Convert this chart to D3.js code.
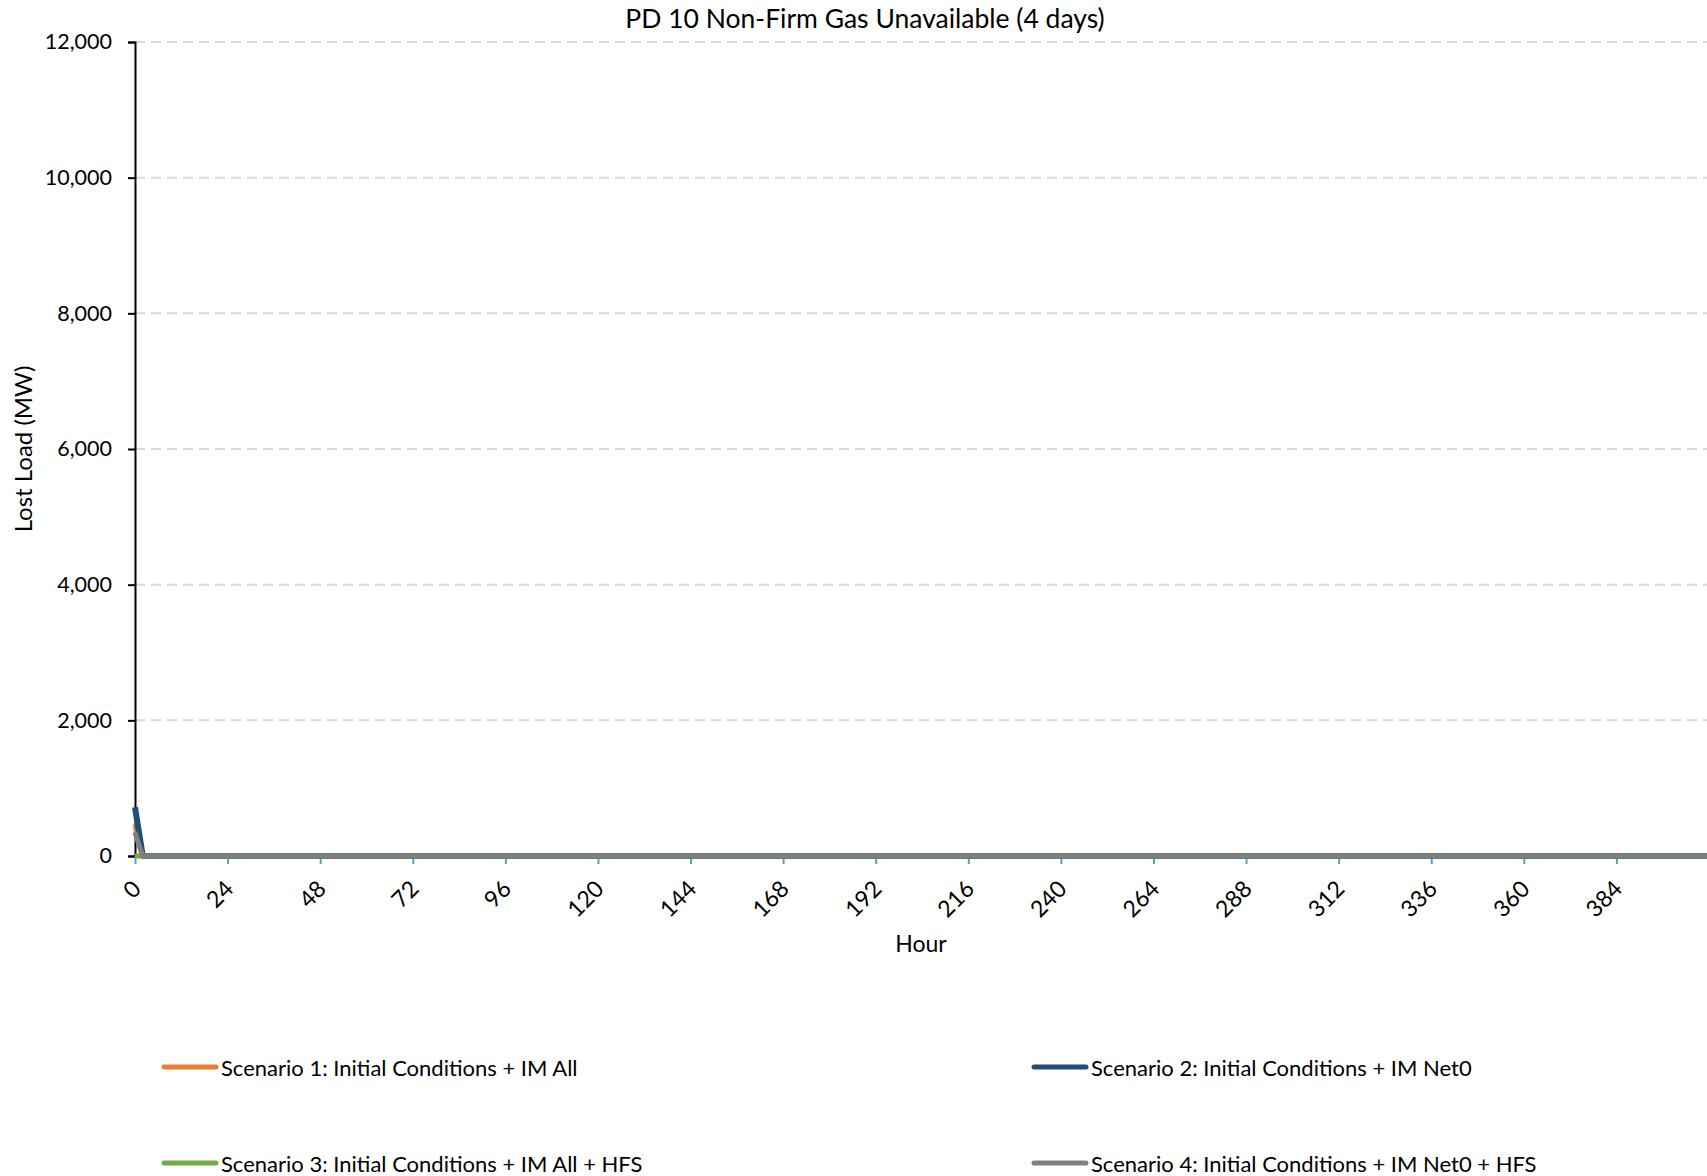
<!DOCTYPE html>
<html>
<head>
<meta charset="utf-8">
<script src="https://cdn.jsdelivr.net/npm/d3@7"></script>
<style>
  html, body { margin: 0; padding: 0; background: #fff; }
  svg { display: block; }
  text { font-family: Lato, "Open Sans", sans-serif; fill: #000; }
</style>
</head>
<body>
<script>
// ---- Data ----
const chartTitle = "PD 10 Non-Firm Gas Unavailable (4 days)";
const xTitle = "Hour";
const yTitle = "Lost Load (MW)";
const hours = [0, 1, 2, 3, 408];
const scenario1 = [470, 200, 0, 0, 0];
const scenario2 = [720, 360, 0, 0, 0];
const scenario3 = [0, 0, 0, 0, 0];
const scenario4 = [350, 170, 0, 0, 0];
const seriesNames = [
  "Scenario 1: Initial Conditions + IM All",
  "Scenario 2: Initial Conditions + IM Net0",
  "Scenario 3: Initial Conditions + IM All + HFS",
  "Scenario 4: Initial Conditions + IM Net0 + HFS"
];
const seriesColors = ["#ED7D31", "#1F4E79", "#70AD47", "#808080"];
const xTicks = [0, 24, 48, 72, 96, 120, 144, 168, 192, 216, 240, 264, 288, 312, 336, 360, 384];
const yTicks = [0, 2000, 4000, 6000, 8000, 10000, 12000];

const W = 1707, H = 1176;
const m = { left: 135, right: 1709, top: 42, bottom: 856 };

const svg = d3.select("body").append("svg").attr("width", W).attr("height", H);

const x = d3.scaleLinear().domain([0, 408]).range([m.left, m.right]);
const y = d3.scaleLinear().domain([0, 12000]).range([m.bottom, m.top]);

// gridlines
svg.append("g").selectAll("line").data(yTicks.filter(d => d > 0)).join("line")
  .attr("x1", m.left).attr("x2", W)
  .attr("y1", d => y(d)).attr("y2", d => y(d))
  .attr("stroke", "#d9d9d9").attr("stroke-width", 2)
  .attr("stroke-dasharray", "10,6");

// y axis
const yAxis = d3.axisLeft(y).tickValues(yTicks).tickSize(7).tickPadding(16)
  .tickFormat(d3.format(","));
const gy = svg.append("g").attr("transform", `translate(${m.left},0)`).call(yAxis);
gy.select(".domain").attr("stroke", "#000").attr("stroke-width", 2);
gy.selectAll(".tick line").attr("stroke", "#000").attr("stroke-width", 2);
gy.selectAll(".tick text").style("font-size", "21.5px").style("font-family", "Lato, sans-serif");

// x axis ticks (light blue)
const xAxis = d3.axisBottom(x).tickValues(xTicks).tickSize(8).tickFormat("");
const gx = svg.append("g").attr("transform", `translate(0,${m.bottom})`).call(xAxis);
gx.select(".domain").remove();
gx.selectAll(".tick line").attr("stroke", "#5B9BD5").attr("stroke-width", 2);

// x tick labels rotated
svg.append("g").selectAll("text").data(xTicks).join("text")
  .attr("transform", d => `translate(${x(d) + 1},${m.bottom + 28}) rotate(-45)`)
  .attr("text-anchor", "end")
  .attr("dominant-baseline", "central")
  .style("font-size", "23px")
  .text(d => d);

// lines
const allSeries = [scenario1, scenario2, scenario3, scenario4];
const line = d3.line().x((d, i) => x(hours[i])).y(d => y(d));
svg.append("g").selectAll("path").data(allSeries).join("path")
  .attr("d", d => line(d))
  .attr("fill", "none")
  .attr("stroke", (d, i) => seriesColors[i])
  .attr("stroke-width", (d, i) => i === 1 ? 6 : 5)
  .attr("stroke-linejoin", "round");

// titles
svg.append("text").attr("x", 865).attr("y", 28).attr("text-anchor", "middle")
  .style("font-size", "26.5px").text(chartTitle);
svg.append("text").attr("x", 921).attr("y", 952).attr("text-anchor", "middle")
  .style("font-size", "23px").text(xTitle);
svg.append("text").attr("transform", `translate(32,${(m.top + m.bottom) / 2}) rotate(-90)`)
  .attr("text-anchor", "middle").style("font-size", "24px").text(yTitle);

// legend
const legendPos = [
  { lx: 164, ly: 1067 }, { lx: 1034, ly: 1067 },
  { lx: 164, ly: 1163 }, { lx: 1034, ly: 1163 }
];
const lg = svg.append("g").selectAll("g").data(seriesNames).join("g")
  .attr("transform", (d, i) => `translate(${legendPos[i].lx},${legendPos[i].ly})`);
lg.append("line").attr("x1", 0).attr("x2", 52).attr("y1", 0).attr("y2", 0)
  .attr("stroke", (d, i) => seriesColors[i]).attr("stroke-width", 5)
  .attr("stroke-linecap", "round");
lg.append("text").attr("x", 57).attr("y", 0).attr("dominant-baseline", "central")
  .style("font-size", "22px").text(d => d);
</script>
</body>
</html>
